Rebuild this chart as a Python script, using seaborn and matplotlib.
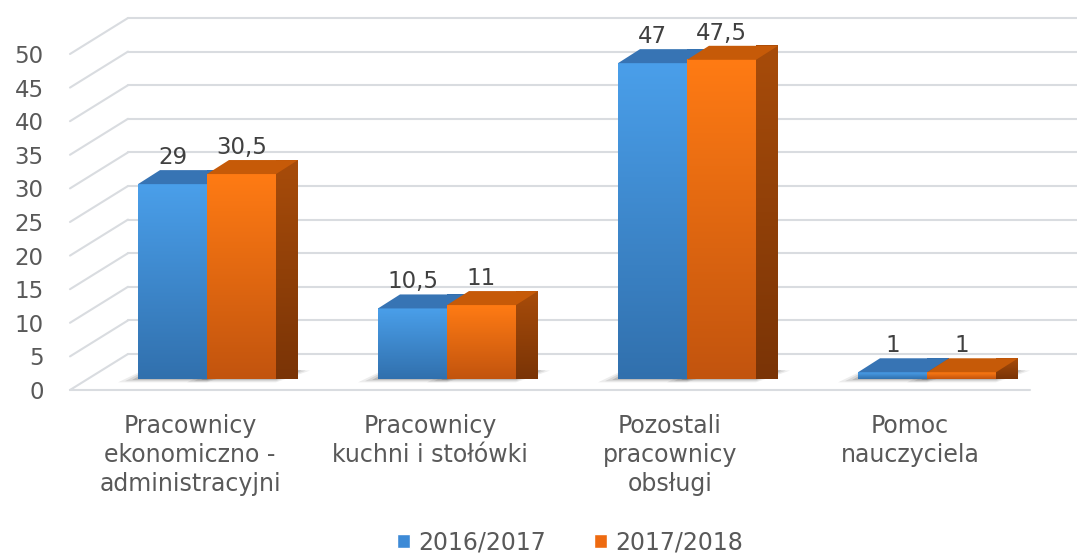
import numpy as np
import pandas as pd
import matplotlib.pyplot as plt
import seaborn as sns
from matplotlib.patches import Polygon
from matplotlib.colors import LinearSegmentedColormap

kategorie = ["Pracownicy\nekonomiczno -\nadministracyjni",
             "Pracownicy\nkuchni i stołówki",
             "Pozostali\npracownicy\nobsługi",
             "Pomoc\nnauczyciela"]
lata = ["2016/2017", "2017/2018"]
wartosci_2016 = [29, 10.5, 47, 1]
wartosci_2017 = [30.5, 11, 47.5, 1]
podzialka = list(range(0, 55, 5))

df = pd.DataFrame({
    "kategoria": kategorie * 2,
    "rok": [lata[0]] * len(kategorie) + [lata[1]] * len(kategorie),
    "wartosc": wartosci_2016 + wartosci_2017,
})

sns.set_style("white")
plt.rcParams['font.family'] = ['DejaVu Sans']

W, H = 1077, 555
fig = plt.figure(figsize=(W / 100, H / 100), dpi=100)
ax = fig.add_axes([70 / W, (H - 390) / H, 960 / W, 386 / H])

# kolory: (dol, gora) gradientu
front = [("#3170AD", "#4A9FEA"), ("#C2540E", "#FF7B14")]
bok = [("#24558A", "#2F6AA6"), ("#7A3406", "#A84C0A")]
wierzch = ["#3774B4", "#C65A08"]
siatka = "#D9DCE0"
tekst = "#595959"

sns.barplot(data=df, x="kategoria", y="wartosc", hue="rok",
            palette=["#3D8AD6", "#EE6A10"], width=0.575, saturation=1,
            ax=ax, zorder=3)

ax.set_xlim(-0.5, 3.5)
ax.set_ylim(0, 386 / 6.72)
sx = ax.bbox.width / 4
sy = ax.bbox.height / (386 / 6.72)


def px(dx, dy):
    return dx / sx, dy / sy


gx, gy = px(58, 36)   # tylna sciana
bx, by = px(17, 11)   # przesuniecie slupkow w glab
dx, dy = px(22, 14)   # glebokosc slupka

for v in podzialka:
    ax.plot([-0.5, -0.5 + gx], [v, v + gy], color=siatka, lw=1.5,
            clip_on=False, zorder=0)
    ax.plot([-0.5 + gx, 3.5 + gx], [v + gy, v + gy], color=siatka, lw=1.5,
            clip_on=False, zorder=0)
ax.plot([-0.5, 3.5], [0, 0], color=siatka, lw=1.5, clip_on=False, zorder=0)


def gradient(poly, ext, kolory, z):
    cmap = LinearSegmentedColormap.from_list("g", list(kolory))
    g = np.linspace(1, 0, 256).reshape(-1, 1)
    im = ax.imshow(g, cmap=cmap, extent=ext, aspect='auto', zorder=z,
                   interpolation='bicubic', clip_on=False)
    im.set_clip_path(poly)


for i, cont in enumerate(ax.containers):
    z = 3 + i
    for p in cont.patches:
        h = p.get_height()
        w = p.get_width()
        x0 = p.get_x() + bx
        x1 = x0 + w
        p.set_x(x0)
        p.set_y(by)
        p.set_linewidth(0)
        p.set_zorder(z)

        # miekki cien na podlodze
        for e, a in [(20, 0.07), (13, 0.09), (6, 0.13)]:
            ex = px(e, 0)[0]
            ey = px(0, e / 6)[1]
            cien = Polygon([(x0 - ex, by - ey), (x1, by - ey),
                            (x1 + dx + ex * 0.6, by + dy * 0.6),
                            (x0 + dx - ex * 0.3, by + dy)],
                           closed=True, facecolor="#000000", alpha=a,
                           linewidth=0, zorder=1)
            ax.add_patch(cien)

        gradient(p, (x0, x1, by, by + h), front[i], z)

        s = Polygon([(x1, by), (x1, by + h), (x1 + dx, by + h + dy),
                     (x1 + dx, by + dy)], closed=True, linewidth=0,
                    facecolor=bok[i][0], zorder=z, clip_on=False)
        ax.add_patch(s)
        gradient(s, (x1, x1 + dx, by, by + h + dy), bok[i], z)

        t = Polygon([(x0, by + h), (x1, by + h), (x1 + dx, by + h + dy),
                     (x0 + dx, by + h + dy)], closed=True, linewidth=0,
                    facecolor=wierzch[i], zorder=z, clip_on=False)
        ax.add_patch(t)

        ax.annotate(f"{h:g}".replace(".", ","), (x0 + w / 2, by + h),
                    xytext=(0, 11), textcoords='offset points',
                    ha='center', va='bottom', fontsize=16.5, color="#404040",
                    zorder=10)

ax.set_xlim(-0.5, 3.5)
ax.set_ylim(0, 386 / 6.72)
for sp in ax.spines.values():
    sp.set_visible(False)
ax.set_xlabel("")
ax.set_ylabel("")
ax.set_yticks(podzialka)
ax.tick_params(axis='y', length=0, pad=19, labelsize=16.5, labelcolor=tekst)
ax.set_xticks(range(len(kategorie)))
ax.set_xticklabels(kategorie, linespacing=1.27)
ax.tick_params(axis='x', which='major', length=0, pad=17, labelsize=17,
               labelcolor=tekst)
ax.set_xticks(np.arange(-0.5, 4, 1), minor=True)
ax.tick_params(axis='x', which='minor', length=7, width=1.5, color=siatka)

sns.move_legend(ax, "lower center", bbox_to_anchor=(570 / W, -0.037),
                bbox_transform=fig.transFigure, ncol=2, frameon=False,
                title=None, fontsize=17, handlelength=0.55,
                handleheight=0.55, columnspacing=2.0, handletextpad=0.35,
                labelcolor=tekst)

fig.savefig("out.png", dpi=100, facecolor="white")
